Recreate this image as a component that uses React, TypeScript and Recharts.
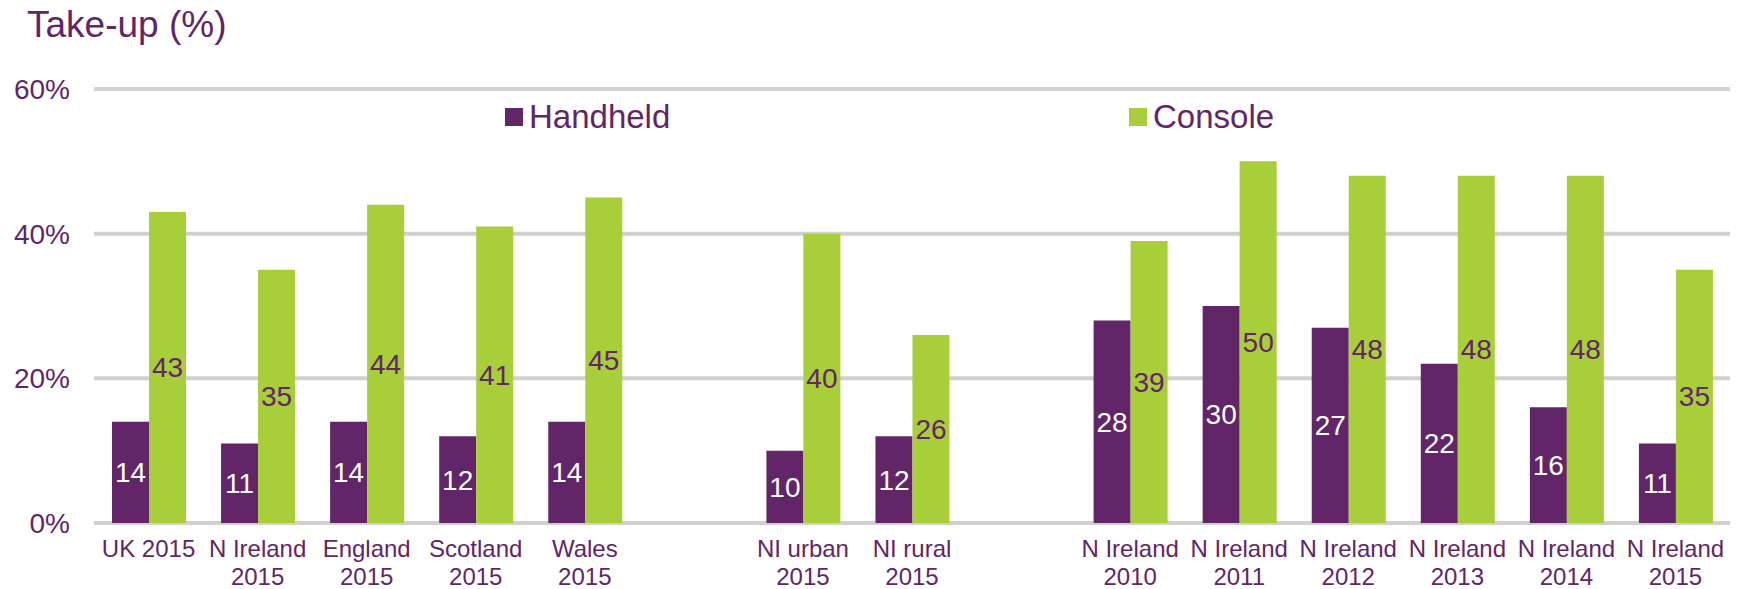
import { Bar, BarChart, CartesianGrid, LabelList, Legend, XAxis, YAxis } from "recharts";

const categories = [
  "UK 2015",
  "N Ireland\n2015",
  "England\n2015",
  "Scotland\n2015",
  "Wales\n2015",
  "",
  "NI urban\n2015",
  "NI rural\n2015",
  "",
  "N Ireland\n2010",
  "N Ireland\n2011",
  "N Ireland\n2012",
  "N Ireland\n2013",
  "N Ireland\n2014",
  "N Ireland\n2015",
];
const handheld = [14, 11, 14, 12, 14, null, 10, 12, null, 28, 30, 27, 22, 16, 11];
const consoleTakeUp = [43, 35, 44, 41, 45, null, 40, 26, null, 39, 50, 48, 48, 48, 35];
const yTicks = [0, 20, 40, 60];

const PURPLE = "#622567";
const GREEN = "#a8ce3a";
const FONT = "'Liberation Sans', Arial, sans-serif";

const data = categories.map((name, i) => ({
  name,
  handheld: handheld[i],
  console: consoleTakeUp[i],
}));

function XTick(props: any) {
  const { x, y, payload } = props;
  const lines = String(payload.value).split("\n");
  return (
    <g>
      {lines.map((line, i) => (
        <text
          key={i}
          x={x}
          y={y + 26 + i * 28}
          textAnchor="middle"
          fill={PURPLE}
          fontSize={24}
          fontFamily={FONT}
        >
          {line}
        </text>
      ))}
    </g>
  );
}

function YTick(props: any) {
  const { y, payload } = props;
  return (
    <text
      x={70}
      y={y + 10}
      textAnchor="end"
      fill={PURPLE}
      fontSize={28}
      fontFamily={FONT}
    >
      {`${payload.value}%`}
    </text>
  );
}

function LegendContent() {
  const item = (left: number, color: string, text: string) => (
    <div
      style={{
        position: "absolute",
        left,
        top: 0,
        display: "flex",
        alignItems: "center",
        height: 40,
      }}
    >
      <span style={{ width: 18, height: 18, background: color, marginRight: 6 }} />
      <span style={{ color: PURPLE, fontSize: 33, fontFamily: FONT }}>{text}</span>
    </div>
  );
  return (
    <div style={{ position: "relative", height: 40 }}>
      {item(505, PURPLE, "Handheld")}
      {item(1129, GREEN, "Console")}
    </div>
  );
}

export default function App() {
  return (
    <div style={{ position: "relative", width: 1739, height: 589, background: "#fff" }}>
      <style>{"body { margin: 0; }"}</style>
      <div
        style={{
          position: "absolute",
          left: 27,
          top: 6,
          color: PURPLE,
          fontSize: 37,
          fontFamily: FONT,
          lineHeight: "37px",
          whiteSpace: "nowrap",
        }}
      >
        Take-up (%)
      </div>
      <BarChart
        width={1739}
        height={589}
        data={data}
        margin={{ top: 49, right: 9, left: 0, bottom: 4 }}
        barCategoryGap="16.5%"
        barGap={0}
      >
        <CartesianGrid vertical={false} stroke="#d0d0d0" strokeWidth={4} />
        <XAxis
          dataKey="name"
          axisLine={false}
          tickLine={false}
          height={62}
          interval={0}
          tick={<XTick />}
        />
        <YAxis
          width={94}
          domain={[0, 60]}
          ticks={yTicks}
          axisLine={false}
          tickLine={false}
          tick={<YTick />}
        />
        <Legend
          verticalAlign="top"
          content={<LegendContent />}
          wrapperStyle={{ top: 97, left: 0, width: 1739, height: 40 }}
        />
        <Bar dataKey="handheld" name="Handheld" fill={PURPLE} isAnimationActive={false}>
          <LabelList
            dataKey="handheld"
            position="center"
            fill="#ffffff"
            fontSize={28}
            fontFamily={FONT}
          />
        </Bar>
        <Bar dataKey="console" name="Console" fill={GREEN} isAnimationActive={false}>
          <LabelList
            dataKey="console"
            position="center"
            fill={PURPLE}
            fontSize={28}
            fontFamily={FONT}
          />
        </Bar>
      </BarChart>
    </div>
  );
}
